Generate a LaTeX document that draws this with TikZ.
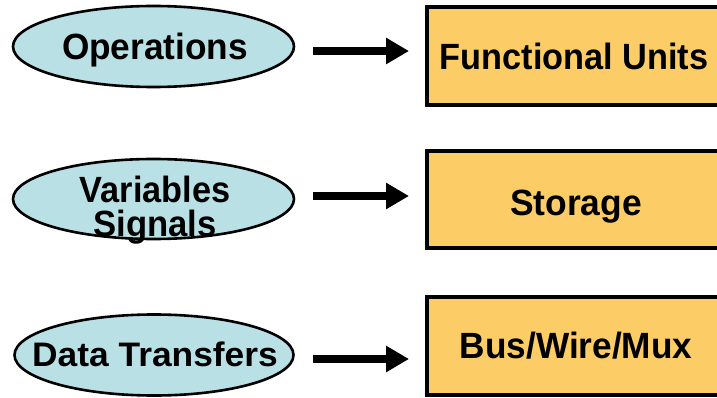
\documentclass[tikz,border=0pt]{standalone}
\usepackage{fontspec}
\setmainfont{Liberation Sans}
\usetikzlibrary{arrows.meta}
\definecolor{ellfill}{RGB}{185,224,228}
\definecolor{boxfill}{RGB}{252,204,102}
\tikzset{
  ell/.style={draw=black, line width=2.6pt, fill=ellfill},
  boxr/.style={draw=black, line width=3.5pt, fill=boxfill},
  lbl/.style={font=\bfseries\fontsize{36.5}{36.5}\selectfont, inner sep=0pt, anchor=base},
  conn/.style={line width=8pt, -{Triangle[length=23pt,width=25pt]}},
}
\begin{document}
\begin{tikzpicture}[x=1pt,y=-1pt]
\useasboundingbox (0,0) rectangle (717,398);
\begin{scope}
\clip (0,0) rectangle (717,398);
% ellipses
\draw[ell] (153.5,46.5) ellipse [x radius=140.5, y radius=40.5];
\draw[ell] (153.5,199) ellipse [x radius=140.5, y radius=40];
\draw[ell] (154,355) ellipse [x radius=139.5, y radius=40.5];
% boxes
\draw[boxr] (427,7) rectangle (740,105);
\draw[boxr] (427,151) rectangle (740,248);
\draw[boxr] (427,297) rectangle (740,395);
% labels
\node[lbl, xscale=0.965] (op) at (155,60) {Operations};
\node[lbl, xscale=0.94] (va) at (155,202) {Variables};
\node[lbl, xscale=0.95] (si) at (155,236) {Signals};
\node[lbl, font=\bfseries\fontsize{34}{34}\selectfont, xscale=1.04] (dt) at (155,366) {Data Transfers};
\node[lbl, xscale=0.94] (fu) at (574,70) {Functional Units};
\node[lbl, xscale=0.97] (st) at (576,215) {Storage};
\node[lbl, xscale=0.965] (bw) at (576,358) {Bus/Wire/Mux};
% arrow endpoints
\coordinate (a1s) at (313,51); \coordinate (a1e) at (409,51);
\coordinate (a2s) at (313,196); \coordinate (a2e) at (409,196);
\coordinate (a3s) at (313,359); \coordinate (a3e) at (409,359);
\draw[conn] (a1s) -- (a1e);
\draw[conn] (a2s) -- (a2e);
\draw[conn] (a3s) -- (a3e);
\end{scope}
\end{tikzpicture}
\end{document}
